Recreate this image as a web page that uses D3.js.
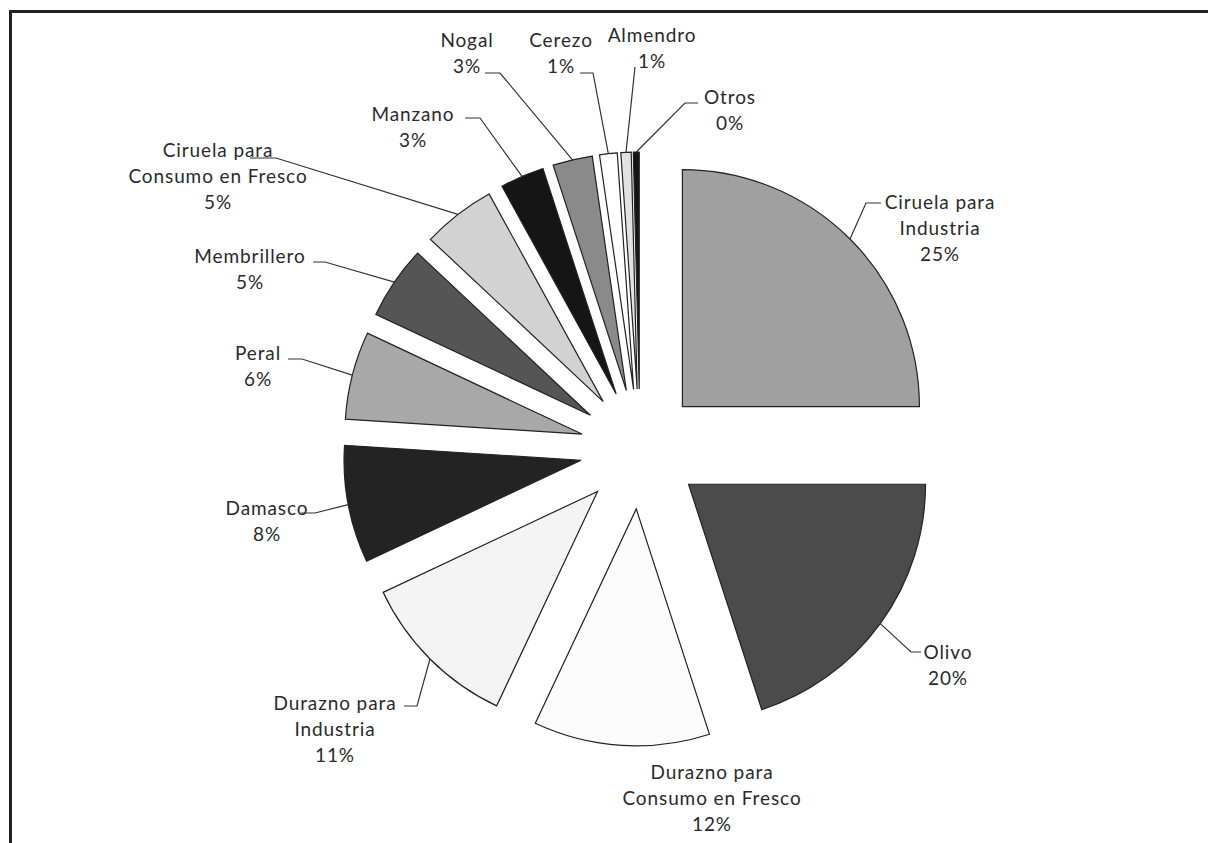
<!DOCTYPE html>
<html>
<head>
<meta charset="utf-8">
<script src="https://cdn.jsdelivr.net/npm/d3@7"></script>
<style>
  body { margin: 0; background: #fff; }
  text { font-family: Lato, "Open Sans", sans-serif; font-size: 19px; letter-spacing: 0.9px; fill: #2a2a2a; }
</style>
</head>
<body>
<div id="chart"></div>
<script>
// Canvas size
const width = 1208;
const height = 843;

// Pie data (share of planted area, %)
const categories = [
  "Ciruela para\nIndustria", "Olivo", "Durazno para\nConsumo en Fresco", "Durazno para\nIndustria",
  "Damasco", "Peral", "Membrillero", "Ciruela para\nConsumo en Fresco", "Manzano",
  "Nogal", "Cerezo", "Almendro", "Otros"
];
const values = [25, 20, 12, 11, 8, 6, 5, 5, 3, 2.7, 1.2, 0.7, 0.4];
const fills = ["#a0a0a0", "#4b4b4b", "#fcfcfc", "#f4f4f4", "#232323", "#a8a8a8", "#555555",
               "#d2d2d2", "#151515", "#8a8a8a", "#ffffff", "#e2e2e2", "#151515"];

// Layout of labels: text centre, first line y, leader start and elbow
const labelLayout = [
  {x: 940, y: 202, lx: 881, ly: 203, ex: 866},
  {x: 948, y: 652, lx: 921, ly: 652, ex: 911},
  {x: 712, y: 772, lx: null},
  {x: 335, y: 703, lx: 404, ly: 706, ex: 417},
  {x: 267, y: 508, lx: 301, ly: 513, ex: 315},
  {x: 258, y: 353, lx: 288, ly: 359, ex: 302},
  {x: 250, y: 256, lx: 313, ly: 262, ex: 325},
  {x: 218, y: 150, lx: 250, ly: 158, ex: 276},
  {x: 413, y: 114, lx: 465, ly: 118, ex: 480},
  {x: 467, y: 40, lx: 485, ly: 73, ex: 500},
  {x: 561, y: 40, lx: 580, ly: 73, ex: 593},
  {x: 652, y: 35, lx: 635, ly: 67, ex: 635},
  {x: 730, y: 97, lx: 698, ly: 103, ex: 685}
];

const center = {x: 640, y: 449};
const radius = 237;
const explode = 60;
const lineHeight = 26;

const data = categories.map((c, i) => ({name: c, value: values[i], fill: fills[i], layout: labelLayout[i]}));

const svg = d3.select("#chart")
  .append("svg")
  .attr("width", width)
  .attr("height", height);

// Cropped frame (top and left edges)
svg.append("path")
  .attr("d", `M10.5,${height} V11.5 H${width}`)
  .attr("fill", "none")
  .attr("stroke", "#222")
  .attr("stroke-width", 3);

const pie = d3.pie().sort(null).value(d => d.value);
const arc = d3.arc().innerRadius(0).outerRadius(radius);
const arcs = pie(data);

// offset of each slice along its bisector
const offset = (d, r) => {
  const a = (d.startAngle + d.endAngle) / 2;
  return [center.x + r * Math.sin(a), center.y - r * Math.cos(a)];
};

const g = svg.append("g");

g.selectAll(".slice")
  .data(arcs)
  .enter()
  .append("path")
    .attr("class", "slice")
    .attr("transform", d => {
      const p = offset(d, explode);
      return `translate(${p[0]},${p[1]})`;
    })
    .attr("d", arc)
    .attr("fill", d => d.data.fill)
    .attr("stroke", "#222")
    .attr("stroke-width", 1.2)
    .attr("stroke-linejoin", "miter");

// Leader lines to the middle of each slice's arc
g.selectAll(".leader")
  .data(arcs.filter(d => d.data.layout.lx !== null))
  .enter()
  .append("polyline")
    .attr("class", "leader")
    .attr("points", d => {
      const L = d.data.layout;
      const m = offset(d, explode + radius);
      return `${L.lx},${L.ly} ${L.ex},${L.ly} ${m[0]},${m[1]}`;
    })
    .attr("fill", "none")
    .attr("stroke", "#333")
    .attr("stroke-width", 1.2);

// Labels: name lines + rounded percent
const labels = g.selectAll(".label")
  .data(arcs)
  .enter()
  .append("text")
    .attr("class", "label")
    .attr("text-anchor", "middle");

labels.each(function(d) {
  const L = d.data.layout;
  const lines = d.data.name.split("\n").concat([Math.round(d.data.value) + "%"]);
  d3.select(this).selectAll("tspan")
    .data(lines)
    .enter()
    .append("tspan")
      .attr("x", L.x)
      .attr("y", (t, i) => L.y + i * lineHeight)
      .attr("dy", "0.35em")
      .text(t => t);
});
</script>
</body>
</html>
